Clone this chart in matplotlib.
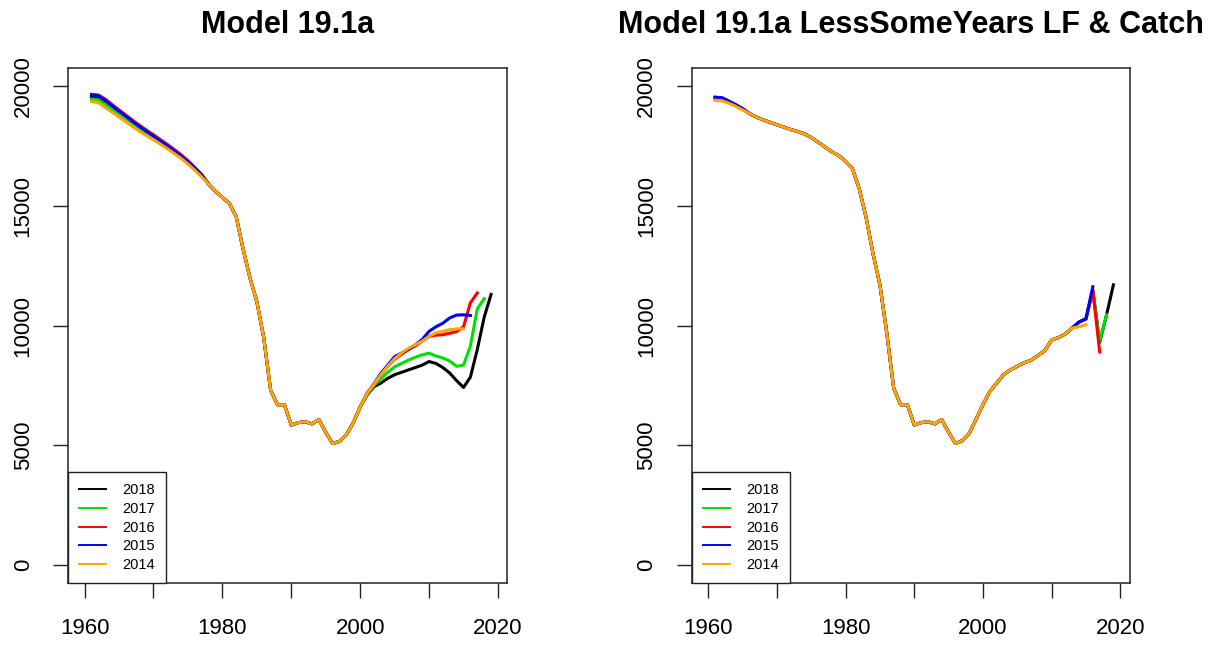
import matplotlib
matplotlib.use("Agg")
import matplotlib.pyplot as plt
from matplotlib.lines import Line2D

plt.rcParams["font.family"] = ["Liberation Sans", "DejaVu Sans"]

first_year = 1961

# ---- left panel: Model 19.1a ----
# 1961-1977, one per series (the lines fan out a little at the start)
left_head_2018 = [19550, 19520, 19330, 19100, 18880, 18660, 18450, 18240, 18040,
                  17860, 17670, 17470, 17270, 17050, 16810, 16550, 16260]
left_head_2017 = [19450, 19420, 19230, 19010, 18800, 18590, 18380, 18180, 17990,
                  17810, 17620, 17430, 17230, 17020, 16780, 16520, 16240]
left_head_2016 = [19650, 19620, 19450, 19220, 19000, 18780, 18560, 18350, 18150,
                  17960, 17760, 17560, 17350, 17130, 16880, 16600, 16300]
left_head_2015 = [19620, 19590, 19400, 19170, 18950, 18730, 18510, 18300, 18100,
                  17910, 17710, 17510, 17300, 17080, 16840, 16570, 16280]
left_head_2014 = [19350, 19300, 19100, 18900, 18700, 18500, 18300, 18100, 17920,
                  17750, 17570, 17380, 17180, 16980, 16740, 16480, 16200]
# 1978-2000, shared by all series
left_mid = [15900, 15600, 15350, 15100, 14550, 13200, 12000, 11000, 9500, 7300,
            6700, 6700, 5850, 5950, 5990, 5900, 6080, 5550, 5080, 5170, 5450,
            5950, 6600]
# 2001 to terminal year + 1
left_tail_2018 = [7100, 7450, 7600, 7800, 7950, 8050, 8150, 8250, 8350, 8500,
                  8420, 8250, 8020, 7700, 7420, 7850, 9000, 10350, 11300]
left_tail_2017 = [7130, 7500, 7780, 8050, 8280, 8420, 8560, 8680, 8780, 8850,
                  8730, 8650, 8520, 8300, 8350, 9150, 10700, 11120]
left_tail_2016 = [7170, 7550, 7950, 8300, 8600, 8800, 9000, 9150, 9350, 9550,
                  9600, 9620, 9680, 9750, 9950, 10950, 11360]
left_tail_2015 = [7170, 7570, 8000, 8350, 8700, 8850, 9000, 9200, 9420, 9760,
                  9950, 10100, 10320, 10440, 10450, 10420]
left_tail_2014 = [7160, 7550, 7950, 8300, 8620, 8850, 9050, 9200, 9350, 9550,
                  9700, 9760, 9830, 9860, 9870]

# ---- right panel: Model 19.1a LessSomeYears LF & Catch ----
# 1961-1965
right_head_2018 = [19480, 19460, 19330, 19190, 19030]
right_head_2017 = [19450, 19430, 19310, 19170, 19020]
right_head_2016 = [19520, 19500, 19360, 19210, 19050]
right_head_2015 = [19530, 19510, 19370, 19220, 19060]
right_head_2014 = [19400, 19380, 19280, 19150, 19000]
# 1966-2013, shared
right_mid = [18850, 18700, 18580, 18480, 18380, 18280, 18180, 18100, 18000, 17850,
             17650, 17450, 17250, 17100, 16850, 16550, 15700, 14500, 13000, 11700,
             9700, 7400, 6700, 6700, 5850, 5950, 5990, 5900, 6080, 5550, 5080,
             5200, 5500, 6100, 6700, 7250, 7600, 7950, 8150, 8300, 8450, 8550,
             8750, 8950, 9400, 9500, 9650, 9900]
# 2014 to terminal year + 1
right_tail_2018 = [10150, 10280, 11450, 9300, 10450, 11700]
right_tail_2017 = [10150, 10280, 11450, 9350, 10450]
right_tail_2016 = [10150, 10280, 11500, 8900]
right_tail_2015 = [10150, 10280, 11620]
right_tail_2014 = [9950, 10040]

labels = ["2018", "2017", "2016", "2015", "2014"]
colors = ["black", "#00e000", "#ff0000", "#0000ff", "#ffa500"]

left_series = [
    left_head_2018 + left_mid + left_tail_2018,
    left_head_2017 + left_mid + left_tail_2017,
    left_head_2016 + left_mid + left_tail_2016,
    left_head_2015 + left_mid + left_tail_2015,
    left_head_2014 + left_mid + left_tail_2014,
]
right_series = [
    right_head_2018 + right_mid + right_tail_2018,
    right_head_2017 + right_mid + right_tail_2017,
    right_head_2016 + right_mid + right_tail_2016,
    right_head_2015 + right_mid + right_tail_2015,
    right_head_2014 + right_mid + right_tail_2014,
]

fig = plt.figure(figsize=(12.14, 6.46), dpi=100)
ax_l = fig.add_axes([0.0563, 0.0975, 0.3616, 0.797])
ax_r = fig.add_axes([0.5700, 0.0975, 0.3605, 0.797])


def draw_panel(ax, series, title):
    for vals, col in zip(series, colors):
        yrs = list(range(first_year, first_year + len(vals)))
        ax.plot(yrs, vals, color=col, lw=2.2, solid_joinstyle="round")
    ax.set_xlim(1957.64, 2021.36)
    ax.set_ylim(-740, 20740)
    ax.set_xticks([1960, 1970, 1980, 1990, 2000, 2010, 2020])
    ax.set_xticklabels(["1960", "", "1980", "", "2000", "", "2020"])
    ax.set_yticks([0, 5000, 10000, 15000, 20000])
    ax.tick_params(direction="out", length=11, width=1.0, labelsize=16,
                   pad=14, color="#222222")
    for lab in ax.get_yticklabels():
        lab.set_rotation(90)
        lab.set_va("center")
    for sp in ax.spines.values():
        sp.set_linewidth(1.1)
        sp.set_color("#222222")
    ax.set_title(title, fontsize=22, fontweight="bold", pad=25)
    handles = [Line2D([], [], color=c, lw=1.4) for c in colors]
    leg = ax.legend(handles, labels, loc="lower left", bbox_to_anchor=(0, 0),
                    borderaxespad=0, fancybox=False, framealpha=1,
                    edgecolor="#222222", fontsize=10.5, handlelength=1.85,
                    handletextpad=1.1, labelspacing=0.32, borderpad=0.75)
    leg.get_frame().set_linewidth(1.0)


draw_panel(ax_l, left_series, "Model 19.1a")
draw_panel(ax_r, right_series, "Model 19.1a LessSomeYears LF & Catch")

fig.savefig("out.png", dpi=100)
